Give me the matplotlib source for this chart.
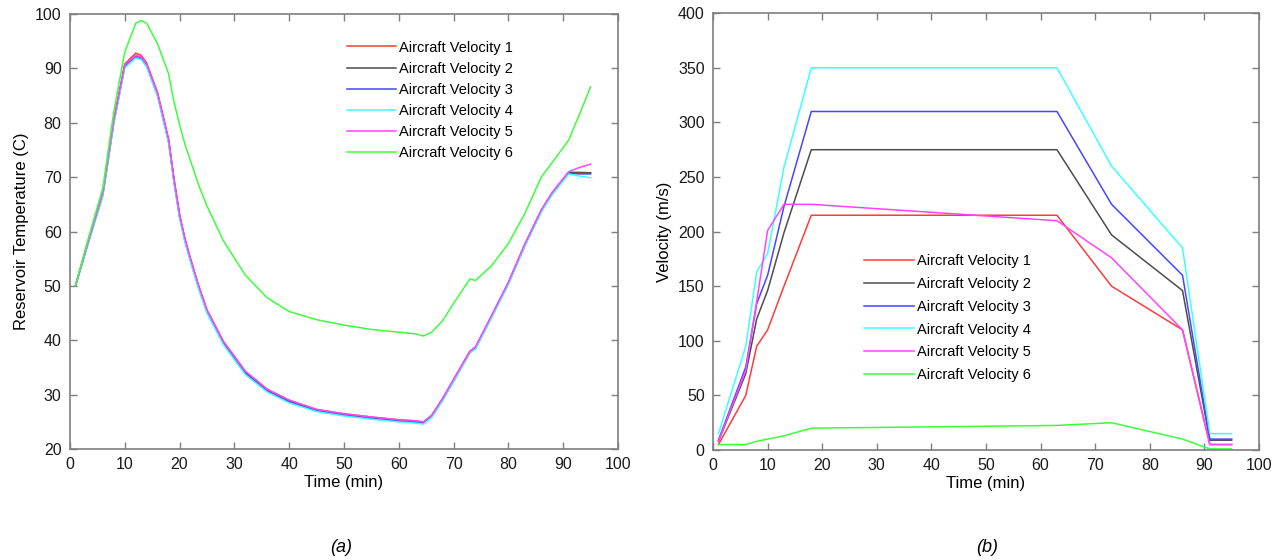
import matplotlib
matplotlib.use("Agg")
import matplotlib.pyplot as plt

plt.rcParams["font.family"] = ["Liberation Sans", "DejaVu Sans"]

# data

labels = ["Aircraft Velocity %d" % i for i in range(1, 7)]
colors = ["#ff3b3b", "#4d4d4d", "#4646ff", "#3cffff", "#ff45ff", "#3cff3c"]

# (a) reservoir temperature
t_temp = [1, 3, 6, 8, 10, 12, 13, 14, 16, 18, 19, 20, 21, 22, 23.5, 25, 28, 32, 36, 40, 45,
          50, 55, 60, 63, 64.5, 66, 68, 70, 73, 74, 77, 80, 83, 86, 88, 91, 93, 95]
temp_v1 = [50, 57, 67.2, 80.5, 90.8, 92.8, 92.4, 91.0, 85.5, 77.0, 69.6, 63.2, 58.6, 55.0, 50.0, 45.6,
           39.8, 34.3, 31.0, 29.0, 27.3, 26.5, 25.9, 25.4, 25.2, 25.0, 26.2, 29.3, 32.8, 38.0, 38.7,
           44.6, 50.6, 57.6, 63.9, 67.1, 70.9, 70.9, 70.8]
temp_v2 = [50, 57, 67.0, 80.3, 90.5, 92.3, 92.0, 90.6, 85.2, 76.7, 69.3, 62.9, 58.4, 54.8, 49.8, 45.4,
           39.6, 34.1, 30.8, 28.8, 27.1, 26.3, 25.7, 25.2, 25.0, 24.8, 26.0, 29.1, 32.6, 37.9, 38.6,
           44.5, 50.5, 57.5, 63.8, 67.0, 70.8, 70.8, 70.8]
temp_v3 = [50, 56.8, 66.7, 80.0, 90.3, 92.0, 91.7, 90.4, 85.0, 76.5, 69.1, 62.7, 58.2, 54.6, 49.6, 45.2,
           39.4, 33.9, 30.6, 28.6, 27.0, 26.2, 25.6, 25.1, 24.9, 24.7, 25.9, 29.0, 32.5, 37.8, 38.5,
           44.4, 50.4, 57.4, 63.7, 66.9, 70.7, 70.6, 70.6]
temp_v4 = [50, 56.7, 66.5, 79.8, 90.1, 91.9, 91.6, 90.3, 84.8, 76.3, 68.9, 62.5, 58.0, 54.4, 49.4, 45.0,
           39.2, 33.7, 30.5, 28.5, 26.9, 26.1, 25.5, 25.0, 24.8, 24.6, 25.8, 28.9, 32.4, 37.7, 38.4,
           44.3, 50.3, 57.3, 63.6, 66.8, 70.6, 70.2, 69.9]
temp_v5 = [50, 57, 67.1, 80.4, 90.6, 92.4, 92.1, 90.8, 85.4, 76.9, 69.5, 63.1, 58.6, 55.0, 50.0, 45.6,
           39.8, 34.3, 31.0, 29.0, 27.3, 26.5, 25.9, 25.4, 25.2, 25.0, 26.2, 29.3, 32.8, 38.0, 38.8,
           44.7, 50.7, 57.7, 64.0, 67.2, 71.0, 71.8, 72.4]
temp_v6 = [50, 57.5, 68.0, 82.0, 93.0, 98.3, 98.8, 98.3, 94.5, 89.0, 83.8, 79.6, 76.0, 73.0, 68.5, 64.7,
           58.3, 52.0, 47.8, 45.3, 43.8, 42.8, 42.0, 41.5, 41.2, 40.8, 41.5, 43.6, 46.8, 51.3, 51.0,
           53.8, 57.8, 63.3, 70.0, 72.7, 76.8, 81.6, 86.6]

# (b) velocity profiles
t_vel = [1, 6, 8, 10, 13, 18, 63, 73, 86, 91, 95]
vel_v1 = [5, 50, 95, 110, 150, 215, 215, 150, 110, 5, 5]
vel_v2 = [8, 70, 120, 146, 199, 275, 275, 197, 146, 9, 9]
vel_v3 = [9, 76, 134, 160, 223, 310, 310, 225, 160, 10, 10]
vel_v4 = [15, 95, 163, 180, 259, 350, 350, 260, 185, 15, 15]
vel_v5 = [8, 73, 136, 201, 225, 225, 210, 176, 110, 5, 5]
vel_v6 = [5, 5, 8, 10, 13, 20, 22.5, 25, 10, 1, 1]

temps = [temp_v1, temp_v2, temp_v3, temp_v4, temp_v5, temp_v6]
vels = [vel_v1, vel_v2, vel_v3, vel_v4, vel_v5, vel_v6]

fig = plt.figure(figsize=(12.81, 5.6), dpi=100)
ax1 = fig.add_axes([0.0546, 0.198, 0.4278, 0.777])
ax2 = fig.add_axes([0.5566, 0.1964, 0.4262, 0.780])


def style(ax):
    for s in ax.spines.values():
        s.set_color("#7f7f7f")
        s.set_linewidth(1.2)
    ax.tick_params(direction="in", top=True, right=True, length=5, width=1,
                   color="#7f7f7f", labelsize=11.5, labelcolor="#1a1a1a", pad=6)


for y, c, lab in zip(temps, colors, labels):
    ax1.plot(t_temp, y, color=c, lw=1.1, label=lab)
ax1.set_xlim(0, 100)
ax1.set_ylim(20, 100)
ax1.set_xticks(range(0, 101, 10))
ax1.set_yticks(range(20, 101, 10))
ax1.set_xlabel("Time (min)", fontsize=12, labelpad=2)
ax1.set_ylabel("Reservoir Temperature (C)", fontsize=12, labelpad=4)
style(ax1)
ax1.legend(loc="upper left", bbox_to_anchor=(0.505, 0.939), frameon=False, fontsize=10.5,
           handlelength=3.4, handletextpad=0.2, labelspacing=0.49, borderpad=0, borderaxespad=0)

for y, c, lab in zip(vels, colors, labels):
    ax2.plot(t_vel, y, color=c, lw=1.1, label=lab)
ax2.set_xlim(0, 100)
ax2.set_ylim(0, 400)
ax2.set_xticks(range(0, 101, 10))
ax2.set_yticks(range(0, 401, 50))
ax2.set_xlabel("Time (min)", fontsize=12, labelpad=2)
ax2.set_ylabel("Velocity (m/s)", fontsize=12, labelpad=4)
style(ax2)
ax2.legend(loc="upper left", bbox_to_anchor=(0.277, 0.448), frameon=False, fontsize=10.5,
           handlelength=3.4, handletextpad=0.2, labelspacing=0.6, borderpad=0, borderaxespad=0)

fig.text(341 / 1281, 1 - 548 / 560, "(a)", ha="center", va="center", fontsize=13, style="italic")
fig.text(987 / 1281, 1 - 548 / 560, "(b)", ha="center", va="center", fontsize=13, style="italic")

fig.savefig("out.png", dpi=100)
